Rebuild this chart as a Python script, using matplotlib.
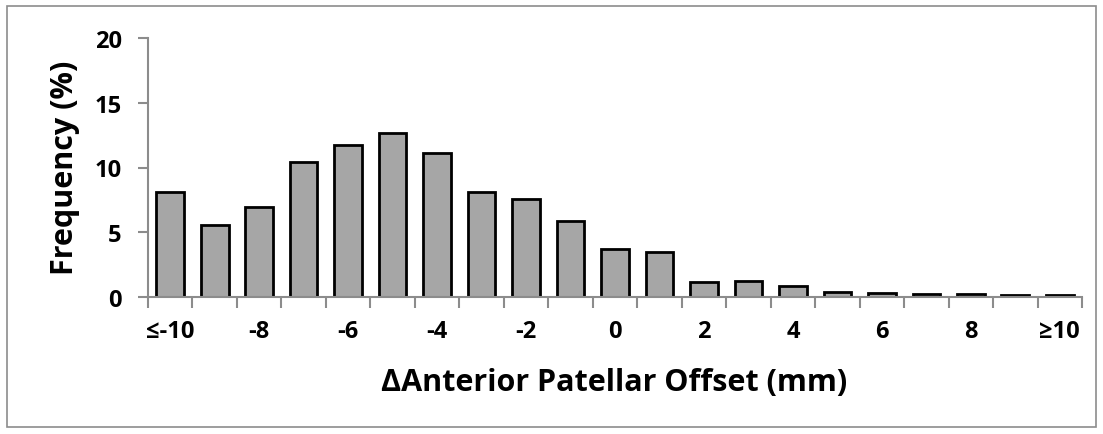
import matplotlib
matplotlib.use("Agg")
import matplotlib.pyplot as plt
from matplotlib.patches import Rectangle
import numpy as np

plt.rcParams["font.family"] = ["Open Sans", "DejaVu Sans"]
plt.rcParams["font.weight"] = "bold"

offsets = list(range(-10, 11))
freq = [8.1, 5.55, 6.95, 10.4, 11.75, 12.65, 11.1, 8.1, 7.6, 5.9,
        3.7, 3.5, 1.15, 1.25, 0.85, 0.4, 0.3, 0.25, 0.25, 0.15, 0.15]
tick_vals = [-10, -8, -6, -4, -2, 0, 2, 4, 6, 8, 10]
tick_labels = ["≤-10", "-8", "-6", "-4", "-2", "0", "2", "4", "6", "8", "≥10"]

W, H = 1103, 435
fig = plt.figure(figsize=(W / 100, H / 100), dpi=100)
ax = fig.add_axes([148 / W, 1 - 298 / H, (1082 - 148) / W, (298 - 39) / H])

GRAY = "#8c8c8c"
ax.bar(offsets, freq, width=0.62, color="#a6a6a6", edgecolor="black", linewidth=2, zorder=3)

ax.set_xlim(-10.5, 10.5)
ax.set_ylim(0, 20)
ax.set_yticks([0, 5, 10, 15, 20])
ax.set_xticks(tick_vals)
ax.set_xticklabels(tick_labels)
ax.set_xticks(np.arange(-10.5, 11, 1), minor=True)
ax.tick_params(axis="x", which="major", length=0, pad=16, labelsize=17)
ax.tick_params(axis="x", which="minor", length=8, width=1.5, color=GRAY, direction="out")
ax.tick_params(axis="y", length=7, width=1.5, color=GRAY, pad=12, labelsize=17)
for s in ["top", "right"]:
    ax.spines[s].set_visible(False)
for s in ["left", "bottom"]:
    ax.spines[s].set_color(GRAY)
    ax.spines[s].set_linewidth(1.5)
ax.spines["bottom"].set_zorder(4)

fig.text(65 / W, 1 - 168 / H, "Frequency (%)", rotation=90, ha="center", va="center",
         fontsize=22, fontweight="bold")
fig.text(614 / W, 1 - 383 / H, "ΔAnterior Patellar Offset (mm)", ha="center", va="center",
         fontsize=22, fontweight="bold")

fig.patches.append(Rectangle((7 / W, 7 / H), (W - 14) / W, (H - 14) / H, transform=fig.transFigure,
                             fill=False, edgecolor=GRAY, linewidth=1.2))

fig.savefig("out.png", dpi=100)
